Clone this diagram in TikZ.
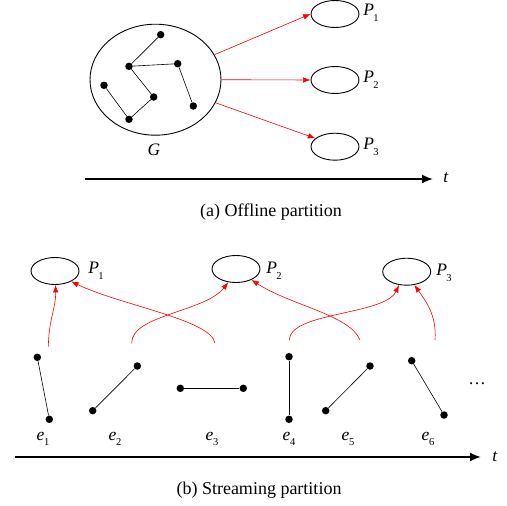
\documentclass[tikz,border=0pt]{standalone}
\usepackage{fontspec}
\setmainfont{Liberation Serif}
\usetikzlibrary{shapes.geometric,arrows.meta}
\newcommand{\lab}[2]{\textit{#1}\kern-0.5pt\raisebox{-5.5pt}{\fontsize{10.5}{10.5}\selectfont #2}}
\begin{document}
\begin{tikzpicture}[x=1pt,y=-1pt,
  part/.style={draw,line width=0.9pt,ellipse,inner sep=0pt,minimum width=48pt,minimum height=27pt},
  big/.style={draw,line width=0.9pt,ellipse,inner sep=0pt,minimum width=131pt,minimum height=111pt},
  dot/.style={circle,fill=black,inner sep=0pt,minimum size=7.5pt},
  edge/.style={line width=0.6pt},
  redarr/.style={red,line width=0.6pt,-{Latex[length=7.5pt,width=5.5pt]}},
  axis/.style={line width=1.8pt,-{Latex[length=11pt,width=9pt]}},
  lbl/.style={font=\fontsize{17.5}{17.5}\selectfont,inner sep=0pt},
  captext/.style={font=\fontsize{18}{18}\selectfont,inner sep=0pt}]
\useasboundingbox (0,0) rectangle (507,506);
% ---------- (a) ----------
\node[big] (G) at (155.5,79.7) {};
\node[dot] (a1) at (160.7,34.7) {};
\node[dot] (a2) at (129,66.3) {};
\node[dot] (a3) at (177.7,63.7) {};
\node[dot] (a4) at (104,85.3) {};
\node[dot] (a5) at (153.7,97) {};
\node[dot] (a6) at (129,119.3) {};
\node[dot] (a7) at (193.3,106) {};
\draw[edge] (a1) -- (a2) -- (a3) -- (a7);
\draw[edge] (a2) -- (a5) -- (a6) -- (a4);
\node[lbl] (Gl) at (154,150) {\textit{G}};
\node[part] (tp1) at (335,14) {};
\node[part] (tp2) at (335,80) {};
\node[part] (tp3) at (335,146.7) {};
\node[lbl] (tl1) at (371,13) {\lab{P}{1}};
\node[lbl] (tl2) at (371,80) {\lab{P}{2}};
\node[lbl] (tl3) at (371,147) {\lab{P}{3}};
\draw[redarr] (G.23) -- (tp1.west);
\draw[redarr] (G.east) -- (tp2.west);
\draw[redarr] (G.-21) -- (tp3.157);
\coordinate (ta0) at (85,179);
\coordinate (ta1) at (433,179);
\draw[axis] (ta0) -- (ta1);
\node[lbl] (tt) at (446,178) {\textit{t}};
\node[captext] (capa) at (271,212) {(a) Offline partition};
% ---------- (b) ----------
\node[part] (bp1) at (55,271) {};
\node[part] (bp2) at (236,269) {};
\node[part] (bp3) at (406.7,271.7) {};
\node[lbl] (bl1) at (96,271) {\lab{P}{1}};
\node[lbl] (bl2) at (274,271) {\lab{P}{2}};
\node[lbl] (bl3) at (444,273) {\lab{P}{3}};
\node[dot] (e1a) at (37.3,357.3) {};
\node[dot] (e1b) at (49.3,419.3) {};
\node[dot] (e2a) at (92.7,410.7) {};
\node[dot] (e2b) at (137.3,366) {};
\node[dot] (e3a) at (180.3,388.3) {};
\node[dot] (e3b) at (243.3,388.3) {};
\node[dot] (e4a) at (289,356.7) {};
\node[dot] (e4b) at (289,419.3) {};
\node[dot] (e5a) at (325.7,410.7) {};
\node[dot] (e5b) at (370,366) {};
\node[dot] (e6a) at (411.7,360.7) {};
\node[dot] (e6b) at (444,415) {};
\draw[edge] (e1a) -- (e1b);
\draw[edge] (e2a) -- (e2b);
\draw[edge] (e3a) -- (e3b);
\draw[edge] (e4a) -- (e4b);
\draw[edge] (e5a) -- (e5b);
\draw[edge] (e6a) -- (e6b);
\node[lbl] (el1) at (43,439) {\lab{e}{1}};
\node[lbl] (el2) at (115,439) {\lab{e}{2}};
\node[lbl] (el3) at (212,439) {\lab{e}{3}};
\node[lbl] (el4) at (289,439) {\lab{e}{4}};
\node[lbl] (el5) at (348,439) {\lab{e}{5}};
\node[lbl] (el6) at (428,439) {\lab{e}{6}};
\node[lbl] (dots) at (477,384) {\dots};
\coordinate (s1) at (48.3,346.7);
\coordinate (s2) at (215,343.3);
\coordinate (s3) at (131.7,343.3);
\coordinate (s4) at (360,340);
\coordinate (s5) at (289.3,340);
\coordinate (s6) at (435,340);
\draw[redarr] (s1) .. controls (49,318) and (56,308) .. (bp1.-88);
\draw[redarr] (s2) .. controls (212,320) and (120,305) .. (bp1.-33);
\draw[redarr] (s3) .. controls (131,315) and (205,312) .. (bp2.-120);
\draw[redarr] (s4) .. controls (350,315) and (290,305) .. (bp2.-35);
\draw[redarr] (s5) .. controls (290,312) and (385,315) .. (bp3.-120);
\draw[redarr] (s6) .. controls (437,315) and (425,300) .. (bp3.-60);
\coordinate (ba0) at (15,457);
\coordinate (ba1) at (481,457);
\draw[axis] (ba0) -- (ba1);
\node[lbl] (bt) at (495,457) {\textit{t}};
\node[captext] (capb) at (259,490) {(b) Streaming partition};
\end{tikzpicture}
\end{document}
